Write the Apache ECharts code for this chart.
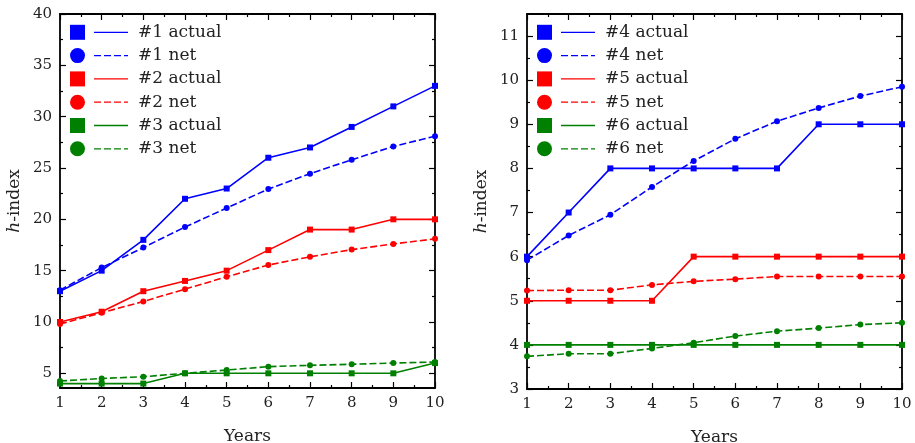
<!DOCTYPE html>
<html>
<head>
<meta charset="utf-8">
<script src="https://cdn.jsdelivr.net/npm/echarts@6/dist/echarts.min.js"></script>
<style>
  html, body { margin: 0; padding: 0; background: #fff; }
  #main { width: 915px; height: 443px; }
</style>
</head>
<body>
<div id="main"></div>
<script>
// data
var years = [1, 2, 3, 4, 5, 6, 7, 8, 9, 10]

var leftTicks = [5, 10, 15, 20, 25, 30, 35, 40]
var leftMinorTicks = [7.5, 12.5, 17.5, 22.5, 27.5, 32.5, 37.5]
var rightTicks = [3, 4, 5, 6, 7, 8, 9, 10, 11]
var rightMinorTicks = [3.5, 4.5, 5.5, 6.5, 7.5, 8.5, 9.5, 10.5]

var actual1 = [13, 15, 18, 22, 23, 26, 27, 29, 31, 33]
var net1 = [13.1, 15.3, 17.25, 19.25, 21.1, 22.95, 24.45, 25.8, 27.1, 28.1]
var actual2 = [10, 11, 13, 14, 15, 17, 19, 19, 20, 20]
var net2 = [9.8, 10.9, 12.0, 13.2, 14.4, 15.55, 16.35, 17.05, 17.6, 18.1]
var actual3 = [4, 4, 4, 5, 5, 5, 5, 5, 5, 6]
var net3 = [4.25, 4.5, 4.67, 5.0, 5.32, 5.65, 5.78, 5.88, 6.0, 6.1]

var actual4 = [6, 7, 8, 8, 8, 8, 8, 9, 9, 9]
var net4 = [5.92, 6.48, 6.95, 7.58, 8.17, 8.67, 9.07, 9.37, 9.64, 9.85]
var actual5 = [5, 5, 5, 5, 6, 6, 6, 6, 6, 6]
var net5 = [5.23, 5.24, 5.24, 5.36, 5.44, 5.49, 5.55, 5.55, 5.55, 5.55]
var actual6 = [4, 4, 4, 4, 4, 4, 4, 4, 4, 4]
var net6 = [3.74, 3.8, 3.8, 3.92, 4.05, 4.2, 4.31, 4.38, 4.46, 4.5]

var BLUE = '#0000ff', RED = '#ff0000', GREEN = '#008000'
var FONT = 'DejaVu Serif'
var TXT = '#222'

var panels = [
  {
    grid: { left: 60, right: 480, top: 14, bottom: 55, outerBoundsMode: 'none' },
    yMin: 3.57, yMax: 40, ticks: leftTicks, minor: leftMinorTicks,
    legendX: 70,
    lines: [
      { name: '#1 actual', color: BLUE, net: false, data: actual1 },
      { name: '#1 net', color: BLUE, net: true, data: net1 },
      { name: '#2 actual', color: RED, net: false, data: actual2 },
      { name: '#2 net', color: RED, net: true, data: net2 },
      { name: '#3 actual', color: GREEN, net: false, data: actual3 },
      { name: '#3 net', color: GREEN, net: true, data: net3 },
    ],
  },
  {
    grid: { left: 527, right: 13, top: 14, bottom: 54, outerBoundsMode: 'none' },
    yMin: 3, yMax: 11.5, ticks: rightTicks, minor: rightMinorTicks,
    legendX: 537,
    lines: [
      { name: '#4 actual', color: BLUE, net: false, data: actual4 },
      { name: '#4 net', color: BLUE, net: true, data: net4 },
      { name: '#5 actual', color: RED, net: false, data: actual5 },
      { name: '#5 net', color: RED, net: true, data: net5 },
      { name: '#6 actual', color: GREEN, net: false, data: actual6 },
      { name: '#6 net', color: GREEN, net: true, data: net6 },
    ],
  },
]

var grids = [], xAxes = [], yAxes = [], series = [], graphics = []
var black = { color: '#000', width: 1.8 }
var tickStyle = { color: '#000', width: 1.2 }

panels.forEach(function(p, g) {
  grids.push(p.grid)

  // bottom + top x axes, ticks inside on both, so the frame is closed
  ;['bottom', 'top'].forEach(function(pos) {
    xAxes.push({
      gridIndex: g,
      type: 'value',
      position: pos,
      min: 1,
      max: 10,
      interval: 1,
      axisLine: { show: true, lineStyle: black },
      axisTick: { inside: true, length: 6, lineStyle: tickStyle },
      minorTick: { show: true, splitNumber: 2, length: 3, lineStyle: tickStyle },
      splitLine: { show: false },
      axisLabel: { show: pos === 'bottom', fontFamily: FONT, fontSize: 15, color: TXT, margin: 8 },
      name: pos === 'bottom' ? 'Years' : '',
      nameLocation: 'middle',
      nameGap: 40,
      nameTextStyle: { fontFamily: FONT, fontSize: 17, color: TXT },
    })
  })

  // left/right y axes: majors and minors as separate axes
  ;['left', 'right'].forEach(function(pos) {
    yAxes.push({
      gridIndex: g,
      type: 'value',
      position: pos,
      min: p.yMin,
      max: p.yMax,
      axisLine: { show: true, lineStyle: black },
      axisTick: { inside: true, length: 6, customValues: p.ticks, lineStyle: tickStyle },
      splitLine: { show: false },
      axisLabel: {
        show: pos === 'left',
        customValues: p.ticks,
        fontFamily: FONT, fontSize: 15, color: TXT, margin: 8,
      },
      name: pos === 'left' ? '{i|h}-index' : '',
      nameLocation: 'middle',
      nameGap: 37,
      nameRotate: 90,
      nameTextStyle: {
        fontFamily: FONT, fontSize: 17, color: TXT,
        rich: { i: { fontFamily: FONT, fontSize: 17, fontStyle: 'italic', color: TXT } },
      },
    })
    yAxes.push({
      gridIndex: g,
      type: 'value',
      position: pos,
      min: p.yMin,
      max: p.yMax,
      axisLine: { show: false },
      axisTick: { inside: true, length: 3, customValues: p.minor, lineStyle: tickStyle },
      splitLine: { show: false },
      axisLabel: { show: false },
    })
  })

  p.lines.forEach(function(l, k) {
    series.push({
      name: l.name,
      type: 'line',
      xAxisIndex: g * 2,
      yAxisIndex: g * 4,
      data: years.map(function(y, i) { return [y, l.data[i]] }),
      symbol: l.net ? 'circle' : 'rect',
      symbolSize: 6,
      showAllSymbol: true,
      itemStyle: { color: l.color },
      lineStyle: { color: l.color, width: 1.6, type: l.net ? [7, 3] : 'solid' },
      z: l.net ? 3 : 4,
      animation: false,
    })

    // legend row: big marker, line sample, label
    var cy = 32.3 + k * 23.3
    var x0 = p.legendX
    if (l.net) {
      graphics.push({ type: 'circle', shape: { cx: x0 + 7.5, cy: cy, r: 7.5 }, style: { fill: l.color } })
    } else {
      graphics.push({ type: 'rect', shape: { x: x0, y: cy - 7.5, width: 15, height: 15 }, style: { fill: l.color } })
    }
    graphics.push({
      type: 'line',
      shape: { x1: x0 + 24, y1: cy, x2: x0 + 58, y2: cy },
      style: { stroke: l.color, lineWidth: 1.3, lineDash: l.net ? [7, 3] : null },
    })
    graphics.push({
      type: 'text',
      x: x0 + 68, y: cy,
      style: { text: l.name, fontFamily: FONT, fontSize: 17, fill: TXT, verticalAlign: 'middle' },
    })
  })
})

var chart = echarts.init(document.getElementById('main'))
chart.setOption({
  backgroundColor: '#fff',
  animation: false,
  grid: grids,
  xAxis: xAxes,
  yAxis: yAxes,
  series: series,
  graphic: graphics,
})
</script>
</body>
</html>
